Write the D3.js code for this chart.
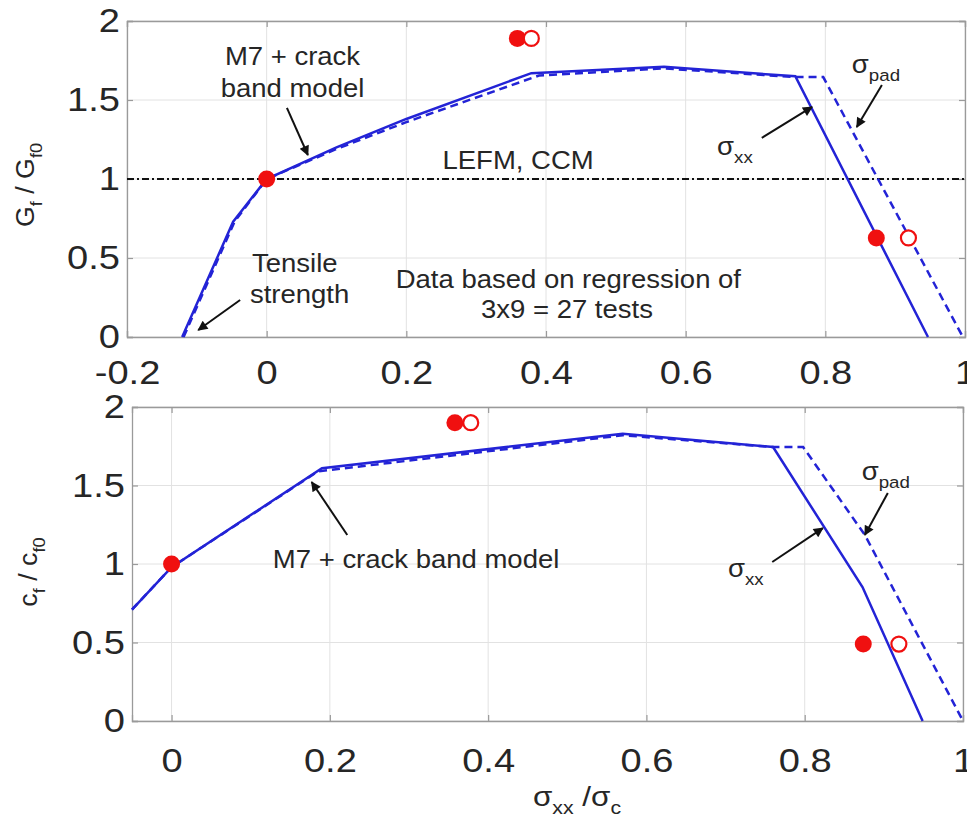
<!DOCTYPE html>
<html><head><meta charset="utf-8">
<script src="https://cdn.jsdelivr.net/npm/d3@7"></script>
<style>
body{margin:0;background:#fff;}
svg{display:block;font-family:"Liberation Sans",Arial,Helvetica,sans-serif;}
</style>
</head><body>
<svg id="c" width="967" height="818"></svg>
<script>
// ---------- data ----------
const yTicks = [0, 0.5, 1, 1.5, 2];
const topXTicks = [-0.2, 0, 0.2, 0.4, 0.6, 0.8, 1];
const botXTicks = [0, 0.2, 0.4, 0.6, 0.8, 1];

// top panel: Gf/Gf0
const topSxxX = [-0.121, -0.048, 0, 0.1, 0.2, 0.379, 0.569, 0.757, 0.947];
const topSxxY = [0, 0.73, 1, 1.20, 1.38, 1.67, 1.71, 1.65, 0];
const topSpadX = [-0.119, -0.046, 0, 0.1, 0.2, 0.39, 0.569, 0.757, 0.797, 0.997];
const topSpadY = [0, 0.73, 1, 1.19, 1.36, 1.655, 1.70, 1.645, 1.645, 0];
const topLefmY = 1;
const topFilledX = [0, 0.359, 0.873];
const topFilledY = [1, 1.89, 0.627];
const topOpenX = [0.379, 0.919];
const topOpenY = [1.89, 0.627];

// bottom panel: cf/cf0
const botSxxX = [-0.05, 0, 0.19, 0.57, 0.76, 0.873, 0.949];
const botSxxY = [0.71, 0.98, 1.61, 1.83, 1.745, 0.853, 0];
const botSpadX = [-0.05, 0, 0.185, 0.57, 0.76, 0.798, 0.876, 1.0];
const botSpadY = [0.71, 0.98, 1.59, 1.82, 1.745, 1.745, 1.185, 0];
const botFilledX = [0, 0.358, 0.874];
const botFilledY = [1, 1.90, 0.49];
const botOpenX = [0.378, 0.919];
const botOpenY = [1.90, 0.49];

// annotations (data coordinates)
const topNotes = [
  {parts:[["M7 + crack"]], x:0.037, y:1.72, a:"middle"},
  {parts:[["band model"]], x:0.037, y:1.52, a:"middle"},
  {parts:[["LEFM, CCM"]], x:0.36, y:1.063, a:"middle"},
  {parts:[["Tensile"]], x:-0.021, y:0.41, a:"start"},
  {parts:[["strength"]], x:-0.024, y:0.215, a:"start"},
  {parts:[["Data based on regression of"]], x:0.432, y:0.31, a:"middle"},
  {parts:[["3x9 = 27 tests"]], x:0.43, y:0.12, a:"middle"},
  {parts:[["σ"],["pad",1]], x:0.838, y:1.67, a:"start"},
  {parts:[["σ"],["xx",1]], x:0.645, y:1.15, a:"start"}
];
const topArrows = [
  [0.029, 1.45, 0.059, 1.152],
  [-0.038, 0.234, -0.098, 0.044],
  [0.881, 1.595, 0.845, 1.329],
  [0.709, 1.26, 0.781, 1.456]
];
const botNotes = [
  {parts:[["M7 + crack band model"]], x:0.128, y:0.975, a:"start"},
  {parts:[["σ"],["pad",1]], x:0.872, y:1.535, a:"start"},
  {parts:[["σ"],["xx",1]], x:0.703, y:0.917, a:"start"}
];
const botArrows = [
  [0.222, 1.185, 0.177, 1.522],
  [0.905, 1.452, 0.876, 1.185],
  [0.759, 1.013, 0.823, 1.229]
];

// ---------- drawing ----------
const svg = d3.select("#c");
const BLUE = "#2323d6", RED = "#f01010", GRID = "#e2e2e2", BOX = "#9a9a9a", TXT = "#262626";
const TICKFS = 34, TICKSX = 1.12, NOTEFS = 25, NOTESX = 1.1;

const defs = svg.append("defs");
defs.append("marker").attr("id","ah").attr("viewBox","0 0 10 10")
  .attr("refX",9).attr("refY",5).attr("markerWidth",13).attr("markerHeight",10)
  .attr("markerUnits","userSpaceOnUse").attr("orient","auto")
  .append("path").attr("d","M0,0 L10,5 L0,10 Z").attr("fill","#111");

function richText(g, x, y, parts, size, anchor, sx, rot) {
  const t = g.append("text")
    .attr("transform", `translate(${x},${y})` + (rot ? ` rotate(${rot})` : "") + ` scale(${sx},1)`)
    .attr("text-anchor", anchor).attr("fill", TXT).style("font-size", size + "px");
  let shifted = false;
  parts.forEach(p => {
    const ts = t.append("tspan").text(p[0]);
    if (p[1]) { ts.style("font-size", (size * 0.68) + "px").attr("dy", size * 0.3); shifted = true; }
    else if (shifted) { ts.attr("dy", -size * 0.3); shifted = false; }
  });
  return t;
}

const fmt = d => String(d);

function panel(cfg) {
  const x = d3.scaleLinear().domain(cfg.xd).range([cfg.l, cfg.r]);
  const y = d3.scaleLinear().domain([0, 2]).range([cfg.b, cfg.t]);
  const g = svg.append("g");

  // grid
  g.append("g").selectAll("line").data(cfg.xt).join("line")
    .attr("x1", d => x(d)).attr("x2", d => x(d)).attr("y1", cfg.t).attr("y2", cfg.b)
    .attr("stroke", GRID).attr("stroke-width", 1);
  g.append("g").selectAll("line").data(yTicks).join("line")
    .attr("y1", d => y(d)).attr("y2", d => y(d)).attr("x1", cfg.l).attr("x2", cfg.r)
    .attr("stroke", GRID).attr("stroke-width", 1);

  // axes (ticks inside on all sides)
  const ax = [
    [d3.axisBottom(x).tickValues(cfg.xt).tickSize(-6).tickPadding(cfg.xpad).tickFormat(fmt), `translate(0,${cfg.b})`, "b"],
    [d3.axisTop(x).tickValues(cfg.xt).tickSize(-6).tickFormat(""), `translate(0,${cfg.t})`, "t"],
    [d3.axisLeft(y).tickValues(yTicks).tickSize(-6).tickPadding(7).tickFormat(fmt), `translate(${cfg.l},0)`, "l"],
    [d3.axisRight(y).tickValues(yTicks).tickSize(-6).tickFormat(""), `translate(${cfg.r},0)`, "r"]
  ];
  ax.forEach(([a, tr, side]) => {
    const ag = g.append("g").attr("transform", tr).call(a);
    ag.select(".domain").attr("stroke", BOX).attr("stroke-width", 1.3);
    ag.selectAll(".tick line").attr("stroke", BOX).attr("stroke-width", 1.2);
    ag.selectAll(".tick text").attr("fill", TXT).style("font-size", TICKFS + "px")
      .style("font-family", '"Liberation Sans",Arial,sans-serif')
      .attr("transform", `scale(${TICKSX},1)`)
      .attr("x", function() { return side === "l" ? -7 / TICKSX : +d3.select(this).attr("x") || 0; });
  });

  const line = d3.line().x(d => x(d[0])).y(d => y(d[1]));

  if (cfg.lefm !== undefined) {
    g.append("line").attr("x1", cfg.l).attr("x2", cfg.r).attr("y1", y(cfg.lefm)).attr("y2", y(cfg.lefm))
      .attr("stroke", "#111").attr("stroke-width", 2).attr("stroke-dasharray", "7,3,2,3");
  }

  g.append("path").datum(d3.zip(cfg.padX, cfg.padY)).attr("d", line)
    .attr("fill", "none").attr("stroke", BLUE).attr("stroke-width", 2.5).attr("stroke-dasharray", "8,5");
  g.append("path").datum(d3.zip(cfg.sxxX, cfg.sxxY)).attr("d", line)
    .attr("fill", "none").attr("stroke", BLUE).attr("stroke-width", 2.5);

  g.append("g").selectAll("circle").data(d3.zip(cfg.fx, cfg.fy)).join("circle")
    .attr("cx", d => x(d[0])).attr("cy", d => y(d[1])).attr("r", 8.5).attr("fill", RED);
  g.append("g").selectAll("circle").data(d3.zip(cfg.ox, cfg.oy)).join("circle")
    .attr("cx", d => x(d[0])).attr("cy", d => y(d[1])).attr("r", 7.5)
    .attr("fill", "#fff").attr("stroke", RED).attr("stroke-width", 2.2);

  g.append("g").selectAll("line").data(cfg.arrows).join("line")
    .attr("x1", d => x(d[0])).attr("y1", d => y(d[1])).attr("x2", d => x(d[2])).attr("y2", d => y(d[3]))
    .attr("stroke", "#111").attr("stroke-width", 2).attr("marker-end", "url(#ah)");

  cfg.notes.forEach(n => richText(g, x(n.x), y(n.y), n.parts, NOTEFS, n.a, NOTESX));
  return {x, y};
}

panel({l:127, r:965, t:21, b:337, xd:[-0.2, 1], xt:topXTicks, xpad:23,
  sxxX:topSxxX, sxxY:topSxxY, padX:topSpadX, padY:topSpadY, lefm:topLefmY,
  fx:topFilledX, fy:topFilledY, ox:topOpenX, oy:topOpenY, arrows:topArrows, notes:topNotes});
panel({l:132, r:963, t:407, b:721, xd:[-0.05, 1], xt:botXTicks, xpad:27,
  sxxX:botSxxX, sxxY:botSxxY, padX:botSpadX, padY:botSpadY,
  fx:botFilledX, fy:botFilledY, ox:botOpenX, oy:botOpenY, arrows:botArrows, notes:botNotes});

// axis labels
richText(svg, 34, 185, [["G"],["f",1],[" / G"],["f0",1]], 25, "middle", 1.07, -90);
richText(svg, 37, 572, [["c"],["f",1],[" / c"],["f0",1]], 25, "middle", 1.07, -90);
richText(svg, 577, 806, [["σ"],["xx",1],[" /σ"],["c",1]], 28, "middle", 1.12);
</script>
</body></html>
